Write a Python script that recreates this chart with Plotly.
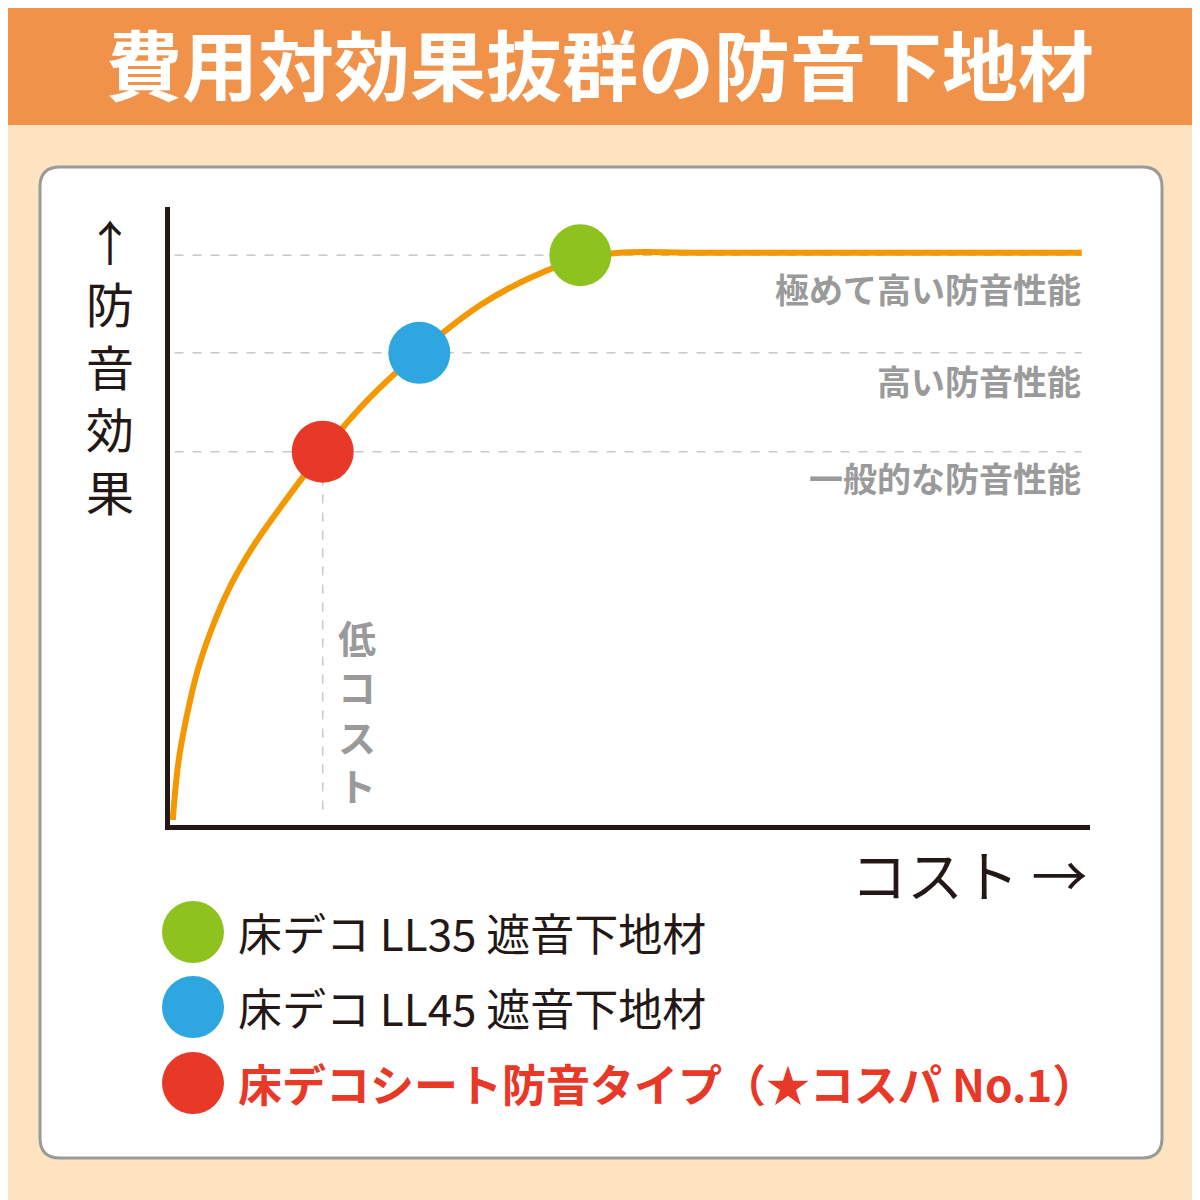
import plotly.graph_objects as go

W = H = 1200
FONT = "Noto Sans CJK JP"
OFF = 8  # page body margin

# curve (cost %, effect %)
curve_cost = [0.3, 0.9, 1.8, 3.0, 4.6, 6.5, 9.0, 12.3, 16.6, 21.7, 27.1, 33.7, 39.1, 44.6, 48.9, 57.6, 99.1]
curve_eff = [0.8, 10.0, 17.5, 25.0, 32.0, 38.5, 45.0, 52.0, 60.4, 69.1, 76.5, 84.1, 88.5, 91.6, 92.6, 92.6, 92.6]

products = ["床デコ LL35 遮音下地材", "床デコ LL45 遮音下地材", "床デコシート防音タイプ（★コスパ No.1）"]
prod_cost = [44.6, 27.1, 16.6]
prod_eff = [92.2, 76.4, 60.4]
prod_colors = ["#8DC21F", "#2EA7E0", "#E83828"]

level_labels = ["極めて高い防音性能", "高い防音性能", "一般的な防音性能"]
level_eff = [92.2, 76.4, 60.4]

x0, x1 = 170, 1090
y0, y1 = 825, 207
def px(x): return (x - OFF) / W
def py(y): return 1 - (y - OFF) / H

fig = go.Figure()
fig.add_trace(go.Scatter(x=curve_cost, y=curve_eff, mode="lines", line=dict(color="#F39800", width=6, shape="spline", smoothing=1.0), hoverinfo="skip"))
fig.add_trace(go.Scatter(x=prod_cost, y=prod_eff, mode="markers", marker=dict(size=62, color=prod_colors, line=dict(width=0)), hoverinfo="skip"))

shapes = [
    dict(type="rect", xref="paper", yref="paper", x0=0, x1=1, y0=0, y1=1, fillcolor="#FDE3BF", line_width=0, layer="below"),
    dict(type="rect", xref="paper", yref="paper", x0=0, x1=1, y0=py(125), y1=1, fillcolor="#F0924A", line_width=0, layer="below"),
]
bx0, bx1, by0, by1, r = px(40), px(1162), py(1158), py(167), 20 / W
path = (f"M {bx0+r},{by0} L {bx1-r},{by0} Q {bx1},{by0} {bx1},{by0+r} L {bx1},{by1-r} Q {bx1},{by1} {bx1-r},{by1} "
        f"L {bx0+r},{by1} Q {bx0},{by1} {bx0},{by1-r} L {bx0},{by0+r} Q {bx0},{by0} {bx0+r},{by0} Z")
shapes.append(dict(type="path", xref="paper", yref="paper", path=path, fillcolor="white", line=dict(color="#9A9A9A", width=3), layer="below"))
for e in level_eff:
    shapes.append(dict(type="line", xref="x", yref="y", x0=0.5, x1=99.1, y0=e, y1=e, line=dict(color="#C8C8C8", width=1.5, dash="dash"), layer="below"))
shapes.append(dict(type="line", xref="x", yref="y", x0=prod_cost[2], x1=prod_cost[2], y0=2.5, y1=prod_eff[2], line=dict(color="#C8C8C8", width=1.5, dash="dash"), layer="below"))
for i, c in enumerate(prod_colors):
    cy = [932, 1007, 1083][i]
    shapes.append(dict(type="circle", xref="paper", yref="paper", x0=px(162), x1=px(224), y0=py(cy + 31), y1=py(cy - 31), fillcolor=c, line_width=0))

ann = [
    dict(text="<b>費用対効果抜群の防音下地材</b>", x=px(600), y=py(62), font=dict(size=76, color="white")),
    dict(text="↑<br>防<br>音<br>効<br>果", x=px(110), y=py(365), font=dict(size=48, color="#231815")),
    dict(text="コスト →", x=px(1090), y=py(872), xanchor="right", font=dict(size=56, color="#231815")),
    dict(text="<b>低<br>コ<br>ス<br>ト</b>", x=px(357), y=py(710), font=dict(size=38, color="#9A9A9A")),
]
for lab, ly in zip(level_labels, [288, 380, 478]):
    ann.append(dict(text=f"<b>{lab}</b>", x=px(1083), y=py(ly), xanchor="right", font=dict(size=34, color="#9A9A9A")))
for i, p in enumerate(products):
    cy = [932, 1007, 1083][i]
    t = f"<b>{p}</b>" if i == 2 else p
    ann.append(dict(text=t, x=px(236), y=py(cy), xanchor="left", font=dict(size=44, color="#E83828" if i == 2 else "#231815")))
for a in ann:
    a.update(xref="paper", yref="paper", showarrow=False, font=dict(family=FONT, **a["font"]))
    a.setdefault("xanchor", "center"); a["yanchor"] = "middle"

fig.update_layout(
    width=W, height=H, margin=dict(l=0, r=0, t=0, b=0), showlegend=False,
    paper_bgcolor="#FDE3BF", plot_bgcolor="rgba(0,0,0,0)",
    shapes=shapes, annotations=ann,
    xaxis=dict(domain=[px(x0), px(x1)], range=[0, 100], showgrid=False, zeroline=False, showticklabels=False, ticks="",
               showline=True, linecolor="#231815", linewidth=5),
    yaxis=dict(domain=[py(y0), py(y1)], range=[0, 100], showgrid=False, zeroline=False, showticklabels=False, ticks="",
               showline=True, linecolor="#231815", linewidth=5),
)
fig.write_html("out.html")
